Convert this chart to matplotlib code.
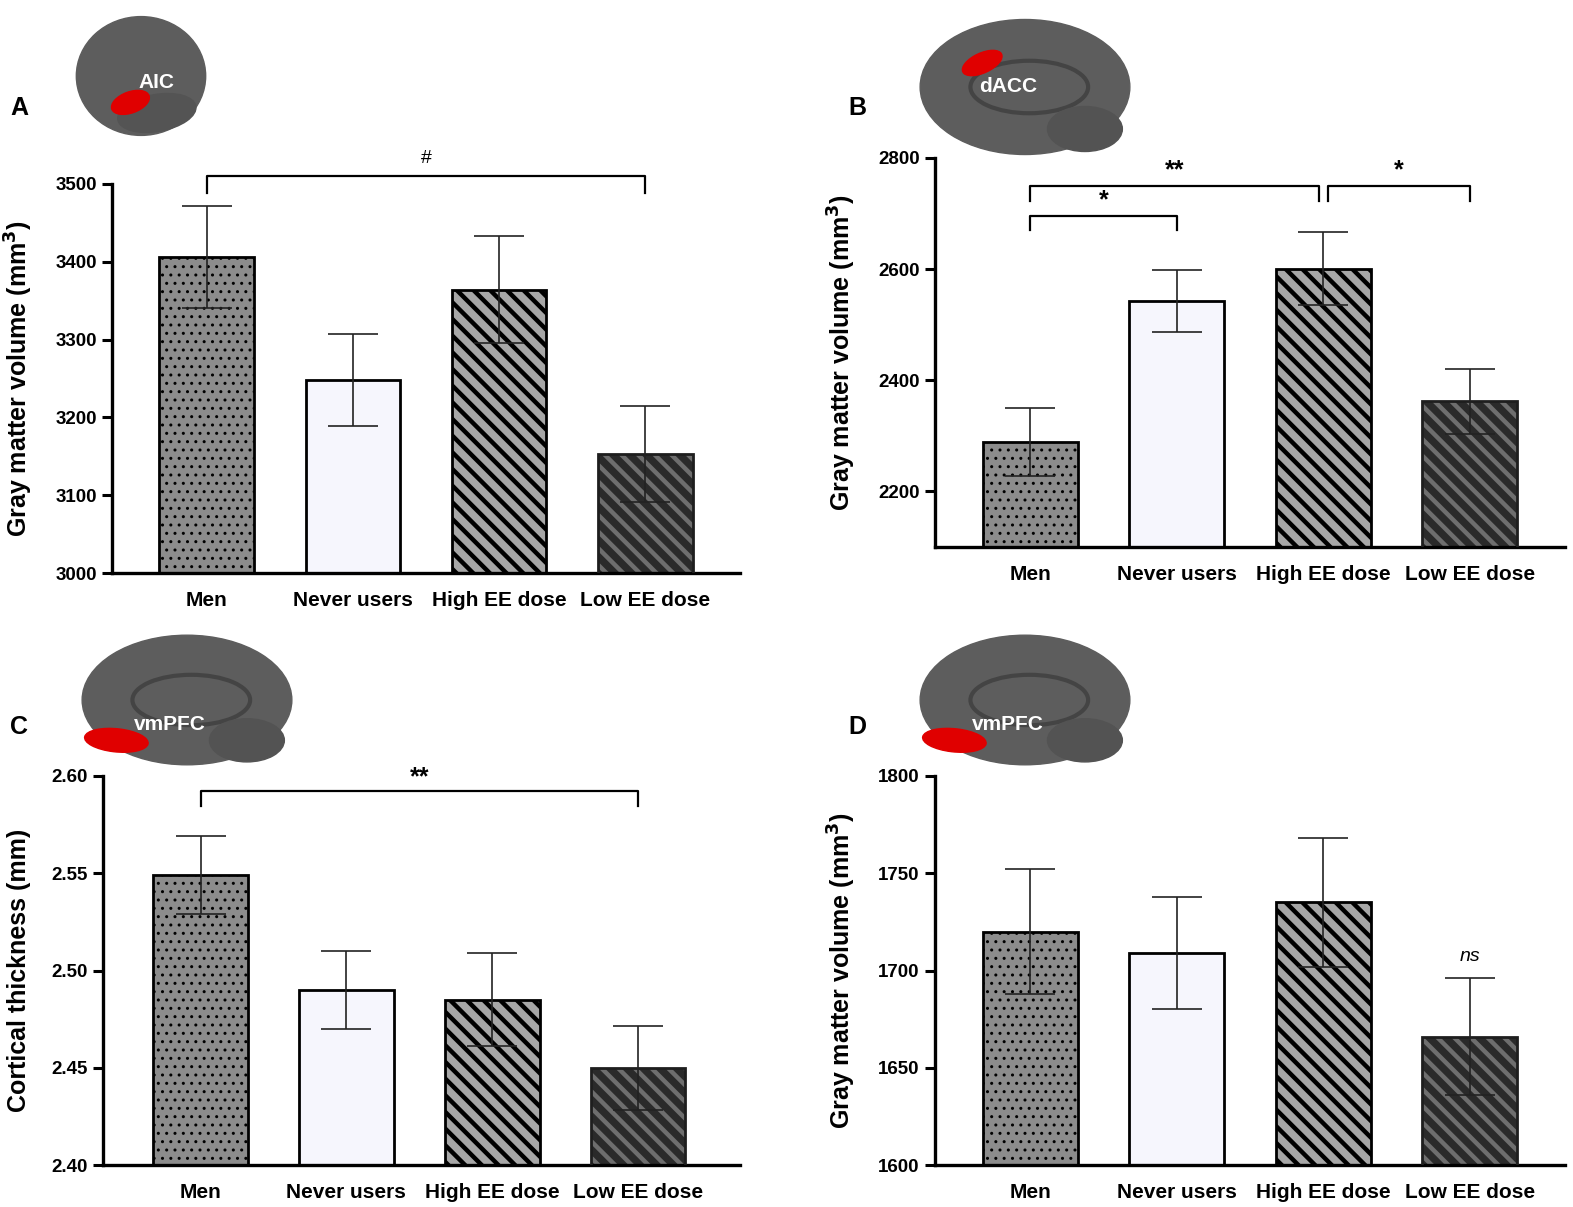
import numpy as np
import matplotlib.pyplot as plt
from matplotlib.patches import Ellipse

W, H = 1573, 1207

groups = ["Men", "Never users", "High EE dose", "Low EE dose"]

# panel A: AIC gray matter volume
aic_mean = [3406, 3248, 3364, 3153]
aic_sem = [66, 59, 69, 62]
# panel B: dACC gray matter volume
dacc_mean = [2289, 2543, 2601, 2362]
dacc_sem = [62, 56, 65, 59]
# panel C: vmPFC cortical thickness
thick_mean = [2.549, 2.490, 2.485, 2.450]
thick_sem = [0.020, 0.020, 0.024, 0.0217]
# panel D: vmPFC gray matter volume
vmpfc_mean = [1720, 1709, 1735, 1666]
vmpfc_sem = [32, 29, 33, 30]

fills = ["#8c8c8c", "#f6f6fd", "#a7a7a7", "#2a2a2a"]
hatches = ["..", None, "\\\\", "\\\\"]
hatch_cols = ["black", None, "black", "#6e6e6e"]

plt.rcParams["font.family"] = ["Liberation Sans", "DejaVu Sans"]


def px_axes(fig, x0, y0, x1, y1):
    # pixel box (top-left origin) -> figure axes
    return fig.add_axes([x0 / W, 1 - y1 / H, (x1 - x0) / W, (y1 - y0) / H])


def draw_bars(ax, means, sems):
    x = np.arange(len(means))
    for i in range(len(means)):
        ec = hatch_cols[i] if hatch_cols[i] else "black"
        b = ax.bar(x[i], means[i], width=0.65, color=fills[i], edgecolor=ec,
                   hatch=hatches[i], linewidth=0, zorder=2)[0]
        if hatches[i] is not None and hasattr(b, "set_hatch_linewidth"):
            b.set_hatch_linewidth(1.0 if hatches[i] == ".." else 3.2)
        ax.bar(x[i], means[i], width=0.65, color="none",
               edgecolor="#1e1e1e" if i == 3 else "black", linewidth=2.0, zorder=3)
    ax.errorbar(x, means, yerr=sems, fmt="none", ecolor="#222222",
                elinewidth=1.2, capsize=18, capthick=1.2, zorder=4)


def style_axes(ax, ylim, yticks, ylabel, fmt, left_px, width_px, label_px):
    ax.set_ylim(*ylim)
    ax.set_yticks(yticks)
    ax.set_yticklabels([fmt.format(t) for t in yticks], fontsize=13.5, fontweight="bold")
    ax.set_xticks(range(len(groups)))
    ax.set_xticklabels(groups, fontsize=15, fontweight="bold")
    ax.tick_params(axis="x", length=0, pad=13)
    ax.tick_params(axis="y", length=7, width=2.2, pad=4)
    for s in ["top", "right"]:
        ax.spines[s].set_visible(False)
    for s in ["left", "bottom"]:
        ax.spines[s].set_linewidth(2.4)
    ax.set_ylabel(ylabel, fontsize=18, fontweight="bold")
    # label_px is the right edge of the rotated label
    ax.yaxis.set_label_coords((label_px - left_px) / width_px, 0.5)


def bracket(ax, x1, x2, y, drop, text, size=18, weight="bold", style="normal", gap=0.0):
    ax.plot([x1, x1, x2, x2], [y - drop, y, y, y - drop], color="black",
            lw=1.6, clip_on=False, zorder=5)
    ax.text((x1 + x2) / 2, y + gap, text, ha="center", va="bottom", fontsize=size,
            fontweight=weight, fontstyle=style, clip_on=False)


def draw_brain(fig, box, label, red, label_xy, medial):
    bax = px_axes(fig, *box)
    bax.set_xlim(0, 1)
    bax.set_ylim(0, 1)
    bax.axis("off")
    bax.add_patch(Ellipse((0.5, 0.5), 0.98, 0.9, color="#5d5d5d", zorder=1))
    if medial:
        bax.add_patch(Ellipse((0.52, 0.5), 0.55, 0.35, fill=False,
                              edgecolor="#444444", lw=3, zorder=2))
        bax.add_patch(Ellipse((0.78, 0.22), 0.35, 0.3, color="#535353", zorder=2))
    else:
        bax.add_patch(Ellipse((0.62, 0.22), 0.6, 0.28, angle=10, color="#545454", zorder=2))
    cx, cy, w, h, ang = red
    bax.add_patch(Ellipse((cx, cy), w, h, angle=ang, color="#e00000", zorder=3))
    bax.text(label_xy[0], label_xy[1], label, color="white", fontsize=15,
             fontweight="bold", ha="center", va="center", zorder=4)


fig = plt.figure(figsize=(W / 100, H / 100), dpi=100)

# A
axA = px_axes(fig, 112, 184, 740, 573)
axA.set_xlim(-0.65, 3.65)
draw_bars(axA, aic_mean, aic_sem)
style_axes(axA, (3000, 3500), [3000, 3100, 3200, 3300, 3400, 3500],
           "Gray matter volume (mm$^\\mathbf{3}$)", "{:.0f}", 112, 628, 35)
bracket(axA, 0, 3, 3510, 22, "#", size=14, weight="normal", gap=12)

# B
axB = px_axes(fig, 935, 158, 1565, 547)
axB.set_xlim(-0.65, 3.65)
draw_bars(axB, dacc_mean, dacc_sem)
style_axes(axB, (2100, 2800), [2200, 2400, 2600, 2800],
           "Gray matter volume (mm$^\\mathbf{3}$)", "{:.0f}", 935, 630, 858)
bracket(axB, 0, 1, 2696, 26, "*", gap=6)
bracket(axB, 0, 1.97, 2750, 27, "**", gap=6)
bracket(axB, 2.03, 3, 2750, 27, "*", gap=6)

# C
axC = px_axes(fig, 103, 776, 740, 1165)
axC.set_xlim(-0.67, 3.7)
draw_bars(axC, thick_mean, thick_sem)
style_axes(axC, (2.40, 2.60), [2.40, 2.45, 2.50, 2.55, 2.60],
           "Cortical thickness (mm)", "{:.2f}", 103, 637, 31)
bracket(axC, 0, 3, 2.5923, 0.0077, "**", gap=0.001)

# D
axD = px_axes(fig, 935, 776, 1565, 1165)
axD.set_xlim(-0.65, 3.65)
draw_bars(axD, vmpfc_mean, vmpfc_sem)
style_axes(axD, (1600, 1800), [1600, 1650, 1700, 1750, 1800],
           "Gray matter volume (mm$^\\mathbf{3}$)", "{:.0f}", 935, 630, 858)
axD.text(3, vmpfc_mean[3] + vmpfc_sem[3] + 7, "ns", ha="center", va="bottom",
         fontsize=14, fontstyle="italic")

# brain pictograms
draw_brain(fig, (75, 10, 207, 142), "AIC", (0.42, 0.3, 0.3, 0.16, 20), (0.62, 0.45), False)
draw_brain(fig, (918, 12, 1132, 162), "dACC", (0.3, 0.66, 0.22, 0.12, 40), (0.42, 0.5), True)
draw_brain(fig, (80, 628, 294, 772), "vmPFC", (0.17, 0.22, 0.3, 0.16, -10), (0.42, 0.33), True)
draw_brain(fig, (918, 628, 1132, 772), "vmPFC", (0.17, 0.22, 0.3, 0.16, -10), (0.42, 0.33), True)

for letter, px, py in [("A", 10, 108), ("B", 848, 108), ("C", 10, 727), ("D", 848, 727)]:
    fig.text(px / W, 1 - py / H, letter, fontsize=18, fontweight="bold", va="center")

fig.savefig("out.png", dpi=100)
